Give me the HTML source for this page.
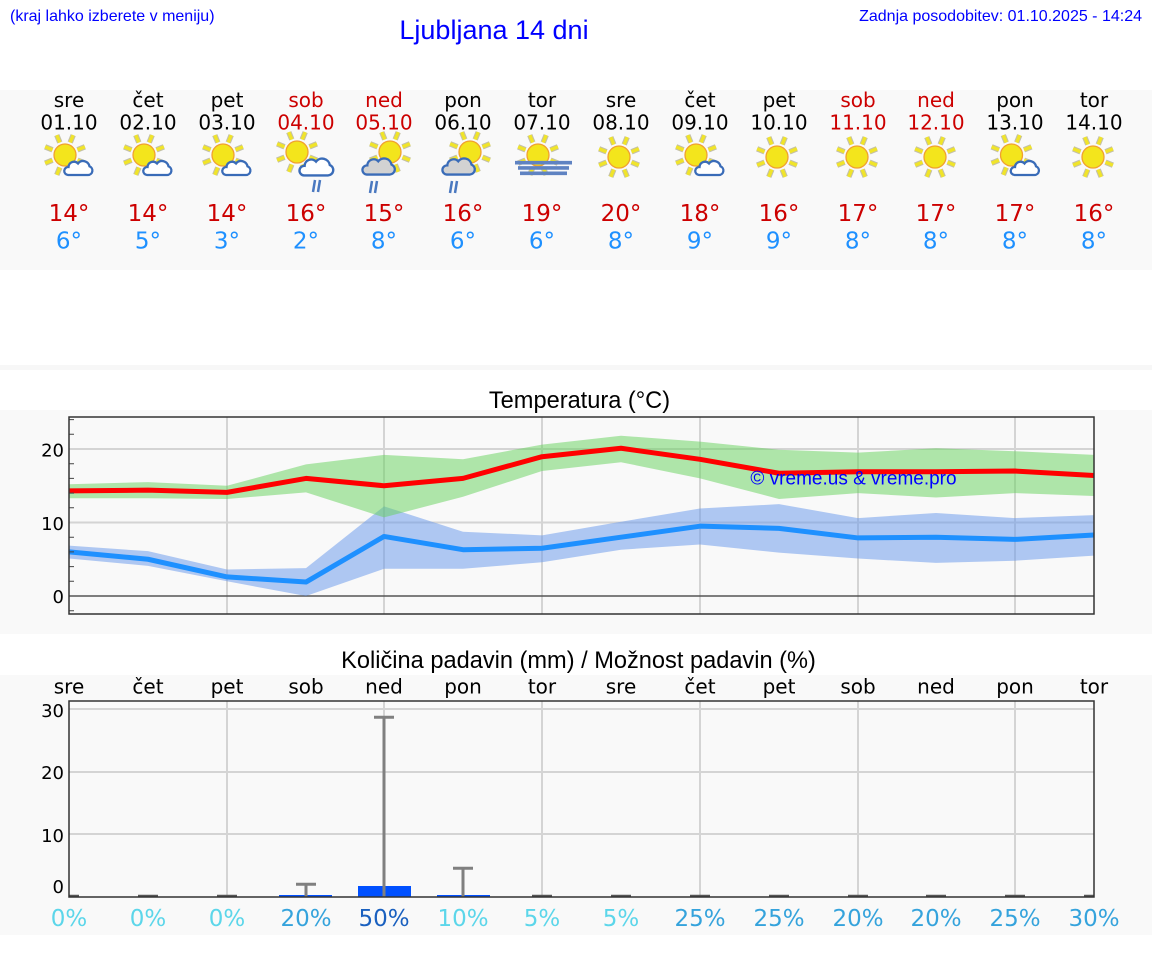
<!DOCTYPE html>
<html>
<head>
<meta charset="utf-8">
<style>
html,body{margin:0;padding:0;background:#fff;}
svg{display:block;}
.dv{font-family:"DejaVu Sans","Liberation Sans",sans-serif;}
.lb{font-family:"Liberation Sans","DejaVu Sans",sans-serif;}
</style>
</head>
<body>
<svg width="1152" height="975" viewBox="0 0 1152 975" xmlns="http://www.w3.org/2000/svg">
<defs>
  <g id="sun">
    <path d="M12.5,-5.2L19.9,-8.2M5.2,-12.5L8.2,-19.9M-5.2,-12.5L-8.2,-19.9M-12.5,-5.2L-19.9,-8.2M-12.5,5.2L-19.9,8.2M-5.2,12.5L-8.2,19.9M5.2,12.5L8.2,19.9M12.5,5.2L19.9,8.2" stroke="#c4c0a8" stroke-width="5.5" fill="none"/>
    <path d="M12.5,-5.2L19.9,-8.2M5.2,-12.5L8.2,-19.9M-5.2,-12.5L-8.2,-19.9M-12.5,-5.2L-19.9,-8.2M-12.5,5.2L-19.9,8.2M-5.2,12.5L-8.2,19.9M5.2,12.5L8.2,19.9M12.5,5.2L19.9,8.2" stroke="#f0e42a" stroke-width="3.4" fill="none"/>
    <circle cx="0" cy="0" r="11" fill="#f3e51c" stroke="#f0a030" stroke-width="1.3"/>
  </g>
  <path id="cloud" d="M5,17 H25 A4.5,4.5 0 0 0 26.5,8.3 A6.5,6.5 0 0 0 15,5.5 A5.5,5.5 0 0 0 5.5,9 A4,4 0 0 0 5,17 Z"/>
</defs>

<rect x="0" y="0" width="1152" height="975" fill="#ffffff"/>

<!-- Header -->
<text class="lb" x="10" y="21" font-size="16" fill="#0000ff">(kraj lahko izberete v meniju)</text>
<text class="lb" x="1142" y="21" font-size="16" fill="#0000ff" text-anchor="end">Zadnja posodobitev: 01.10.2025 - 14:24</text>
<text class="lb" x="494" y="39" font-size="27" fill="#0000ff" text-anchor="middle">Ljubljana 14 dni</text>

<!-- Top band -->
<rect x="0" y="90" width="1152" height="180" fill="#f9f9f9"/>
<g class="dv" font-size="20" text-anchor="middle" fill="#000">
  <text x="69" y="107">sre</text>
  <text x="148" y="107">čet</text>
  <text x="227" y="107">pet</text>
  <text x="306" y="107" fill="#cc0000">sob</text>
  <text x="384" y="107" fill="#cc0000">ned</text>
  <text x="463" y="107">pon</text>
  <text x="542" y="107">tor</text>
  <text x="621" y="107">sre</text>
  <text x="700" y="107">čet</text>
  <text x="779" y="107">pet</text>
  <text x="858" y="107" fill="#cc0000">sob</text>
  <text x="936" y="107" fill="#cc0000">ned</text>
  <text x="1015" y="107">pon</text>
  <text x="1094" y="107">tor</text>

  <text x="69" y="129.5">01.10</text>
  <text x="148" y="129.5">02.10</text>
  <text x="227" y="129.5">03.10</text>
  <text x="306" y="129.5" fill="#cc0000">04.10</text>
  <text x="384" y="129.5" fill="#cc0000">05.10</text>
  <text x="463" y="129.5">06.10</text>
  <text x="542" y="129.5">07.10</text>
  <text x="621" y="129.5">08.10</text>
  <text x="700" y="129.5">09.10</text>
  <text x="779" y="129.5">10.10</text>
  <text x="858" y="129.5" fill="#cc0000">11.10</text>
  <text x="936" y="129.5" fill="#cc0000">12.10</text>
  <text x="1015" y="129.5">13.10</text>
  <text x="1094" y="129.5">14.10</text>
</g>
<g class="dv" font-size="23" text-anchor="middle" fill="#cc0000">
  <text x="69" y="221">14°</text>
  <text x="148" y="221">14°</text>
  <text x="227" y="221">14°</text>
  <text x="306" y="221">16°</text>
  <text x="384" y="221">15°</text>
  <text x="463" y="221">16°</text>
  <text x="542" y="221">19°</text>
  <text x="621" y="221">20°</text>
  <text x="700" y="221">18°</text>
  <text x="779" y="221">16°</text>
  <text x="858" y="221">17°</text>
  <text x="936" y="221">17°</text>
  <text x="1015" y="221">17°</text>
  <text x="1094" y="221">16°</text>
</g>
<g class="dv" font-size="23" text-anchor="middle" fill="#1e90ff">
  <text x="69" y="248.5">6°</text>
  <text x="148" y="248.5">5°</text>
  <text x="227" y="248.5">3°</text>
  <text x="306" y="248.5">2°</text>
  <text x="384" y="248.5">8°</text>
  <text x="463" y="248.5">6°</text>
  <text x="542" y="248.5">6°</text>
  <text x="621" y="248.5">8°</text>
  <text x="700" y="248.5">9°</text>
  <text x="779" y="248.5">9°</text>
  <text x="858" y="248.5">8°</text>
  <text x="936" y="248.5">8°</text>
  <text x="1015" y="248.5">8°</text>
  <text x="1094" y="248.5">8°</text>
</g>

<!-- Icons -->
<g>
  <use href="#sun" x="65" y="155"/>
  <use href="#cloud" transform="translate(63,158)" fill="#fff" stroke="#3a6cb8" stroke-width="2.3"/>
  <use href="#sun" x="144" y="155"/>
  <use href="#cloud" transform="translate(142,158)" fill="#fff" stroke="#3a6cb8" stroke-width="2.3"/>
  <use href="#sun" x="223" y="155"/>
  <use href="#cloud" transform="translate(221,158)" fill="#fff" stroke="#3a6cb8" stroke-width="2.3"/>
  <use href="#sun" x="696" y="155"/>
  <use href="#cloud" transform="translate(694,158)" fill="#fff" stroke="#3a6cb8" stroke-width="2.3"/>
  <use href="#sun" x="1011.5" y="155"/>
  <use href="#cloud" transform="translate(1009.5,158)" fill="#fff" stroke="#3a6cb8" stroke-width="2.3"/>
</g>
<!-- sob 04.10 -->
<use href="#sun" x="297" y="152"/>
<use href="#cloud" transform="translate(298,155) scale(1.2)" fill="#fff" stroke="#3a6cb8" stroke-width="2"/>
<path d="M313,192L315,180M318,192L320,180" stroke="#4a78c0" stroke-width="2.5" fill="none"/>
<!-- ned 05.10 -->
<use href="#sun" x="390" y="152"/>
<use href="#cloud" transform="translate(361,155) scale(1.15)" fill="#d2d2d2" stroke="#3a6cb8" stroke-width="2"/>
<path d="M370,193L372,181M375,193L377,181" stroke="#4a78c0" stroke-width="2.5" fill="none"/>
<!-- pon 06.10 -->
<use href="#sun" x="470" y="152"/>
<use href="#cloud" transform="translate(441,155) scale(1.15)" fill="#d2d2d2" stroke="#3a6cb8" stroke-width="2"/>
<path d="M450,193L452,181M455,193L457,181" stroke="#4a78c0" stroke-width="2.5" fill="none"/>
<!-- tor 07.10 fog -->
<use href="#sun" x="538" y="155"/>
<path d="M515,162.7H572M518,167.9H569M520,173.3H567" stroke="#5f83c2" stroke-width="3.6" fill="none"/>
<!-- sun only -->
<use href="#sun" x="619" y="157"/>
<use href="#sun" x="777" y="157"/>
<use href="#sun" x="857" y="157"/>
<use href="#sun" x="935" y="157"/>
<use href="#sun" x="1093" y="157"/>

<!-- separator strip -->
<rect x="0" y="365" width="1152" height="5" fill="#f7f7f7"/>

<!-- Temperature chart -->
<rect x="0" y="410" width="1152" height="224" fill="#f9f9f9"/>
<text class="lb" x="579.5" y="408" font-size="23.6" text-anchor="middle" fill="#000">Temperatura (°C)</text>
<rect x="69" y="417" width="1025" height="197" fill="#f9f9f9"/>
<g stroke="#d4d4d4" stroke-width="2" fill="none">
  <path d="M69,449H1094M69,522.5H1094"/>
  <path d="M227,417V614M384,417V614M542,417V614M700,417V614M858,417V614M1015,417V614"/>
</g>
<path d="M69,596H1094" stroke="#555" stroke-width="1.5"/>
<g transform="matrix(1 0 0 -7.35 0 596)">
  <polygon fill="rgba(100,150,235,0.5)" points="69,6.85 148,6.1 227,3.6 306,3.8 384,12.2 463,8.75 542,8.25 621,10.1 700,11.9 779,12.5 858,10.6 936,11.3 1015,10.6 1094,11.0 1094,5.5 1015,4.8 936,4.5 858,5.1 779,5.9 700,7.0 621,6.3 542,4.6 463,3.7 384,3.7 306,0.0 227,2.0 148,4.1 69,5.1"/>
  <polygon fill="rgba(100,210,90,0.5)" points="69,15.2 148,15.5 227,15.0 306,17.9 384,19.2 463,18.6 542,20.6 621,21.8 700,21.0 779,19.9 858,19.5 936,20.1 1015,19.7 1094,19.2 1094,13.6 1015,14.0 936,13.4 858,14.0 779,13.2 700,16.0 621,18.2 542,17.0 463,13.5 384,10.7 306,14.1 227,13.2 148,13.3 69,13.3"/>
  <polyline fill="none" stroke="#ff0000" stroke-width="5" vector-effect="non-scaling-stroke" stroke-linejoin="round" points="69,14.3 148,14.4 227,14.1 306,16.0 384,15.0 463,16.0 542,18.95 621,20.1 700,18.6 779,16.7 858,16.9 936,16.9 1015,17.0 1094,16.4"/>
  <polyline fill="none" stroke="#1e90ff" stroke-width="5" vector-effect="non-scaling-stroke" stroke-linejoin="round" points="69,6.0 148,5.0 227,2.6 306,1.9 384,8.1 463,6.3 542,6.5 621,8.0 700,9.5 779,9.2 858,7.9 936,8.0 1015,7.7 1094,8.3"/>
</g>
<text class="lb" x="853.5" y="484.5" font-size="19" text-anchor="middle" fill="#0000ff">© vreme.us &amp; vreme.pro</text>
<path d="M69,610.7H74M69,581.3H74M69,566.6H74M69,551.9H74M69,537.2H74M69,507.8H74M69,493.1H74M69,478.4H74M69,463.7H74M69,434.3H74M69,419.6H74" stroke="#444" stroke-width="1"/>
<rect x="69" y="417" width="1025" height="197" fill="none" stroke="#333" stroke-width="1.5"/>
<g class="dv" font-size="18" text-anchor="end" fill="#000">
  <text x="64" y="456.5">20</text>
  <text x="64" y="530">10</text>
  <text x="64" y="603">0</text>
</g>

<!-- Precipitation chart -->
<rect x="0" y="675" width="1152" height="260" fill="#f9f9f9"/>
<text class="lb" x="578.5" y="668" font-size="23.6" text-anchor="middle" fill="#000">Količina padavin (mm) / Možnost padavin (%)</text>
<g class="dv" font-size="20" text-anchor="middle" fill="#000">
  <text x="69" y="693.5">sre</text>
  <text x="148" y="693.5">čet</text>
  <text x="227" y="693.5">pet</text>
  <text x="306" y="693.5">sob</text>
  <text x="384" y="693.5">ned</text>
  <text x="463" y="693.5">pon</text>
  <text x="542" y="693.5">tor</text>
  <text x="621" y="693.5">sre</text>
  <text x="700" y="693.5">čet</text>
  <text x="779" y="693.5">pet</text>
  <text x="858" y="693.5">sob</text>
  <text x="936" y="693.5">ned</text>
  <text x="1015" y="693.5">pon</text>
  <text x="1094" y="693.5">tor</text>
</g>
<g stroke="#d4d4d4" stroke-width="2" fill="none">
  <path d="M69,709H1094M69,772H1094M69,834H1094"/>
  <path d="M227,701V897M384,701V897M542,701V897M700,701V897M858,701V897M1015,701V897"/>
</g>
<g fill="#0050ff">
  <rect x="279" y="895" width="53" height="2"/>
  <rect x="358" y="886" width="53" height="11"/>
  <rect x="437" y="895" width="53" height="2"/>
</g>
<g stroke="#808080" stroke-width="3" fill="none">
  <path d="M306,897V884.3M296,884.3H316"/>
  <path d="M384,897V717.3M374,717.3H394"/>
  <path d="M463,897V868.3M453,868.3H473"/>
</g>
<g stroke="#555" stroke-width="2.5" fill="none">
  <path d="M69,896H79M138,896H158M217,896H237M532,896H552M611,896H631M690,896H710M769,896H789M848,896H868M926,896H946M1005,896H1025M1084,896H1094"/>
</g>
<rect x="69" y="701" width="1025" height="196" fill="none" stroke="#333" stroke-width="1.5"/>
<g class="dv" font-size="18" text-anchor="end" fill="#000">
  <text x="64" y="717">30</text>
  <text x="64" y="779">20</text>
  <text x="64" y="842">10</text>
  <text x="64" y="893">0</text>
</g>
<g class="dv" font-size="23" text-anchor="middle">
  <text x="69" y="926" fill="#5cd6ea">0%</text>
  <text x="148" y="926" fill="#5cd6ea">0%</text>
  <text x="227" y="926" fill="#5cd6ea">0%</text>
  <text x="306" y="926" fill="#35a3dc">20%</text>
  <text x="384" y="926" fill="#1a60bf">50%</text>
  <text x="463" y="926" fill="#5cd6ea">10%</text>
  <text x="542" y="926" fill="#5cd6ea">5%</text>
  <text x="621" y="926" fill="#5cd6ea">5%</text>
  <text x="700" y="926" fill="#35a3dc">25%</text>
  <text x="779" y="926" fill="#35a3dc">25%</text>
  <text x="858" y="926" fill="#35a3dc">20%</text>
  <text x="936" y="926" fill="#35a3dc">20%</text>
  <text x="1015" y="926" fill="#35a3dc">25%</text>
  <text x="1094" y="926" fill="#35a3dc">30%</text>
</g>
</svg>
</body>
</html>
